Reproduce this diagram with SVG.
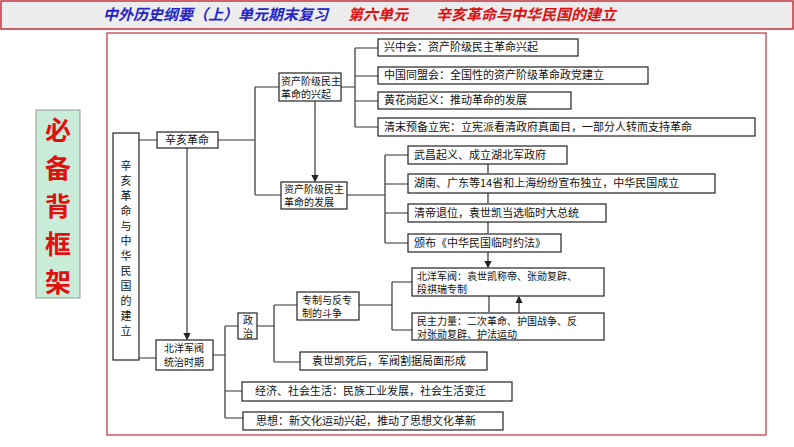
<svg xmlns="http://www.w3.org/2000/svg" width="794" height="447" viewBox="0 0 794 447">
<style>
.b{fill:#fff;stroke:#222;stroke-width:1.2}
.t{font-family:"Noto Sans CJK SC","Noto Serif CJK SC",sans-serif;font-size:11px;fill:#111}
.u{font-family:"Noto Sans CJK SC","Noto Serif CJK SC",sans-serif;font-size:10px;fill:#111}
.l{fill:none;stroke:#333;stroke-width:1.2}
.big{font-family:"Noto Sans CJK SC",sans-serif;font-size:26px;font-weight:bold;fill:#e01010}
</style>
<defs>
<marker id="a" viewBox="0 0 6 6" refX="5" refY="3" markerWidth="6" markerHeight="6" orient="auto"><path d="M0,0L6,3L0,6z" fill="#222"/></marker>
</defs>
<rect x="0" y="0" width="794" height="447" fill="#fff"/>
<rect x="1" y="1" width="792" height="28" fill="#ececec" stroke="#c0303a" stroke-width="1.5"/>
<text x="103" y="20" font-family="'Noto Sans CJK SC',sans-serif" font-size="15" font-weight="bold" font-style="italic" fill="#2424c8">中外历史纲要（上）单元期末复习</text>
<text x="348" y="20" font-family="'Noto Sans CJK SC',sans-serif" font-size="15" font-weight="bold" font-style="italic" fill="#e01010">第六单元</text>
<text x="436" y="20" font-family="'Noto Sans CJK SC',sans-serif" font-size="15" font-weight="bold" font-style="italic" fill="#e01010">辛亥革命与中华民国的建立</text>
<g id="side">
<rect x="36" y="110" width="44" height="188" fill="#c8ecd8" stroke="#999"/>
<text class="big" x="58" y="140" text-anchor="middle">必</text>
<text class="big" x="58" y="178" text-anchor="middle">备</text>
<text class="big" x="58" y="216" text-anchor="middle">背</text>
<text class="big" x="58" y="254" text-anchor="middle">框</text>
<text class="big" x="58" y="292" text-anchor="middle">架</text>
</g>
<rect x="107" y="33" width="659" height="402" fill="none" stroke="#c0303a" stroke-width="1.2"/>
<g id="connectors">
<path class="l" d="M139,140H157M218,140H255M255,87V195M255,87H279M255,195H281"/>
<path class="l" d="M341,87H355M355,48V127M355,48H378M355,76H378M355,101H378M355,127H378"/>
<path class="l" d="M347,195H385M385,155V243M385,155H408M385,184H408M385,213H408M385,243H408"/>
<path class="l" d="M315,101V181" marker-end="url(#a)"/>
<path class="l" d="M488,164V173M488,193V203M488,222V233M488,252V267" marker-end="url(#a)"/>
<path class="l" d="M489,296V312M519,313V297" marker-end="url(#a)"/>
<path class="l" d="M187,148V339" marker-end="url(#a)"/>
<path class="l" d="M139,358H156M213,355H225M225,326V418M225,326H238M225,391H242M225,418H243"/>
<path class="l" d="M257,326H274M274,305V362M274,305H297M274,362H300"/>
<path class="l" d="M359,305H392M392,282V330M392,282H412M392,330H412"/>
</g>
<g id="n0"><rect class="b" x="113" y="133" width="26" height="227"/>
<text class="t" text-anchor="middle"><tspan x="126" y="170">辛</tspan><tspan x="126" y="185">亥</tspan><tspan x="126" y="200">革</tspan><tspan x="126" y="215">命</tspan><tspan x="126" y="230">与</tspan><tspan x="126" y="245">中</tspan><tspan x="126" y="260">华</tspan><tspan x="126" y="275">民</tspan><tspan x="126" y="290">国</tspan><tspan x="126" y="305">的</tspan><tspan x="126" y="320">建</tspan><tspan x="126" y="335">立</tspan></text></g>
<g id="n1"><rect class="b" x="157" y="132" width="61" height="16"/><text class="t" x="165" y="144">辛亥革命</text></g>
<g id="n2"><rect class="b" x="279" y="73" width="62" height="28"/><text class="u" x="281" y="85">资产阶级民主</text><text class="u" x="281" y="98">革命的兴起</text></g>
<g id="n3"><rect class="b" x="281" y="182" width="66" height="27"/><text class="u" x="284" y="193">资产阶级民主</text><text class="u" x="284" y="206">革命的发展</text></g>
<g id="n4"><rect class="b" x="378" y="39" width="200" height="17"/><text class="t" x="384" y="51">兴中会：资产阶级民主革命兴起</text></g>
<g id="n5"><rect class="b" x="378" y="67" width="270" height="17"/><text class="t" x="384" y="79">中国同盟会：全国性的资产阶级革命政党建立</text></g>
<g id="n6"><rect class="b" x="378" y="92" width="193" height="17"/><text class="t" x="384" y="104">黄花岗起义：推动革命的发展</text></g>
<g id="n7"><rect class="b" x="378" y="118" width="377" height="18"/><text class="t" x="384" y="131">清末预备立宪：立宪派看清政府真面目，一部分人转而支持革命</text></g>
<g id="n8"><rect class="b" x="408" y="146" width="159" height="18"/><text class="t" x="414" y="159">武昌起义、成立湖北军政府</text></g>
<g id="n9"><rect class="b" x="408" y="174" width="307" height="19"/><text class="t" x="414" y="187">湖南、广东等14省和上海纷纷宣布独立，中华民国成立</text></g>
<g id="n10"><rect class="b" x="408" y="204" width="198" height="18"/><text class="t" x="414" y="217">清帝退位，袁世凯当选临时大总统</text></g>
<g id="n11"><rect class="b" x="408" y="234" width="153" height="18"/><text class="t" x="414" y="247">颁布《中华民国临时约法》</text></g>
<g id="n12"><rect class="b" x="412" y="268" width="192" height="28"/><text class="u" x="417" y="280">北洋军阀：袁世凯称帝、张勋复辟、</text><text class="u" x="417" y="293">段祺瑞专制</text></g>
<g id="n13"><rect class="b" x="412" y="313" width="192" height="27"/><text class="u" x="417" y="325">民主力量：二次革命、护国战争、反</text><text class="u" x="417" y="338">对张勋复辟、护法运动</text></g>
<g id="n14"><rect class="b" x="297" y="292" width="62" height="28"/><text class="u" x="302" y="304">专制与反专</text><text class="u" x="302" y="317">制的斗争</text></g>
<g id="n15"><rect class="b" x="238" y="313" width="19" height="26"/><text class="u" x="243" y="324">政</text><text class="u" x="243" y="337">治</text></g>
<g id="n16"><rect class="b" x="300" y="352" width="187" height="18"/><text class="t" x="312" y="365">袁世凯死后，军阀割据局面形成</text></g>
<g id="n17"><rect class="b" x="156" y="340" width="57" height="30"/><text class="u" x="164" y="352">北洋军阀</text><text class="u" x="164" y="366">统治时期</text></g>
<g id="n18"><rect class="b" x="242" y="382" width="270" height="19"/><text class="t" x="255" y="395">经济、社会生活：民族工业发展，社会生活变迁</text></g>
<g id="n19"><rect class="b" x="243" y="412" width="260" height="18"/><text class="t" x="256" y="425">思想：新文化运动兴起，推动了思想文化革新</text></g>
</svg>
